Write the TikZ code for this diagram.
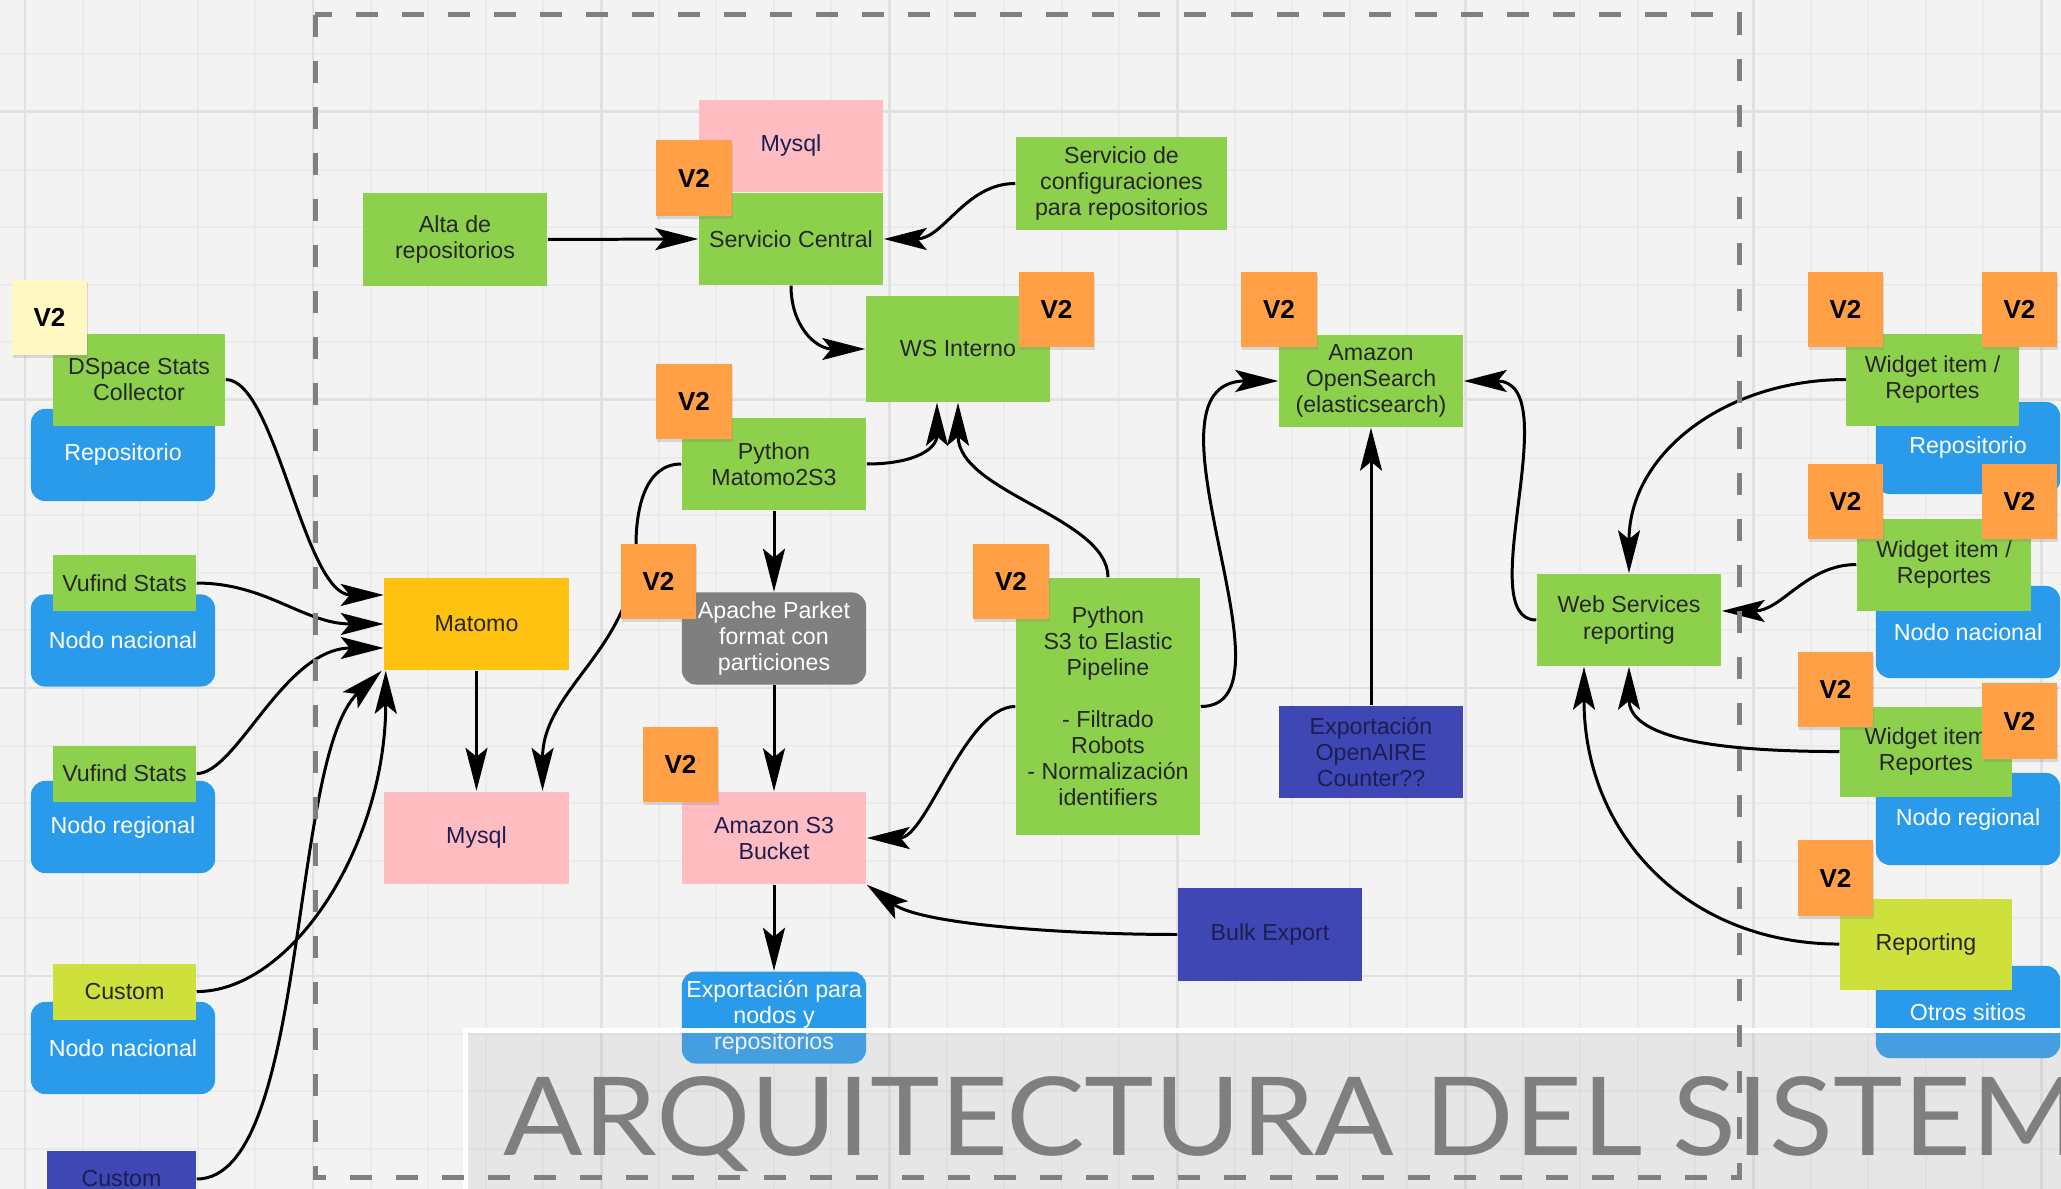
\documentclass[tikz,border=0pt]{standalone}
\usepackage{fontspec}
\setmainfont{Liberation Sans}
\newfontfamily\titlefont{Lato}
\usepackage{tikz}
\usetikzlibrary{positioning}
\usetikzlibrary{arrows.meta,shadows}

\definecolor{canvasgrey}{HTML}{F3F3F3}
\definecolor{gridgrey}{HTML}{EBEBEB}
\definecolor{gridmajor}{HTML}{E1E1E1}
\definecolor{boxgreen}{HTML}{8DD04C}
\definecolor{boxlime}{HTML}{CEE03C}
\definecolor{boxpink}{HTML}{FFBDC1}
\definecolor{boxblue}{HTML}{2A9AEB}
\definecolor{boxindigo}{HTML}{3E47B3}
\definecolor{boxnavy}{HTML}{1C1E52}
\definecolor{boxslate}{HTML}{7F7F7F}
\definecolor{boxamber}{HTML}{FFC210}
\definecolor{stickerorange}{HTML}{FFA046}
\definecolor{stickeryellow}{HTML}{FFF8C2}
\definecolor{titlegrey}{HTML}{7F7F7F}

\newcommand{\boxfont}{\fontsize{6.6}{7.4}\selectfont}
\newcommand{\stickerfont}{\fontsize{7.4}{8}\selectfont\bfseries}

\tikzstyle{flow edge}=[-{Stealth[length=0.43cm,width=0.22cm,inset=0.09cm]},line width=0.85pt]
\tikzstyle{minor line}=[gridgrey,line width=0.55pt]
\tikzstyle{major line}=[gridmajor,line width=0.85pt]
\tikzstyle{arch box}=[minimum width=1.84cm,minimum height=0.92cm,inner sep=1pt,align=center,font=\boxfont]
\tikzstyle{green box}=[arch box,fill=boxgreen,text=black!85]
\tikzstyle{lime box}=[arch box,fill=boxlime,text=black!85]
\tikzstyle{pink box}=[arch box,fill=boxpink,text=boxnavy]
\tikzstyle{site box}=[arch box,fill=boxblue,text=white,rounded corners=0.14cm]
\tikzstyle{export box}=[arch box,fill=boxindigo,text=boxnavy]
\tikzstyle{sticker}=[fill=stickerorange,minimum size=0.75cm,inner sep=0pt,font=\stickerfont,
  drop shadow={shadow xshift=0.01cm,shadow yshift=-0.03cm,opacity=0.25}]

\newcommand{\archnode}[3][]{
  \node [#1] (#2) {#3}
}
\newcommand{\vtwo}[2][]{
  \node [sticker,#1] (#2) {V2}
}

\begin{document}
\begin{tikzpicture}[x=0.01cm,y=0.01cm]
        \useasboundingbox (0,-1189) rectangle (2061,0);
        \fill[canvasgrey] (0,-1189) rectangle (2061,0);
        \foreach \gx in {0,...,35}
            \draw[minor line] ({25+57.6*\gx},0) -- ({25+57.6*\gx},-1189);
        \foreach \gy in {0,...,20}
            \draw[minor line] (0,{-54.4-57.6*\gy}) -- (2061,{-54.4-57.6*\gy});
        \foreach \gx in {0,...,7}
            \draw[major line] ({25+288*\gx},0) -- ({25+288*\gx},-1189);
        \foreach \gy in {0,...,3}
            \draw[major line] (0,{-112-288*\gy}) -- (2061,{-112-288*\gy});

        % sources on the left
        \archnode[site box, at={(123,-455)}]{repoleft}{Repositorio};
        \archnode[green box, above=-0.18cm of repoleft, xshift=0.16cm, minimum width=1.72cm]{dspace}{DSpace Stats\\Collector};
        \archnode[site box, at={(123,-640.5)}]{nodoa}{Nodo nacional};
        \archnode[green box, above=-0.18cm of nodoa, xshift=0.015cm, minimum width=1.43cm, minimum height=0.56cm]{vufa}{Vufind Stats};
        \archnode[site box, at={(123,-827)}]{nodob}{Nodo regional};
        \archnode[green box, above=-0.22cm of nodob, xshift=0.015cm, minimum width=1.43cm, minimum height=0.56cm]{vufb}{Vufind Stats};
        \archnode[site box, at={(123,-1048)}]{nodoc}{Nodo nacional};
        \archnode[lime box, above=-0.19cm of nodoc, xshift=0.015cm, minimum width=1.43cm, minimum height=0.56cm]{customa}{Custom};
        \archnode[export box, at={(121.5,-1179)}, minimum width=1.49cm, minimum height=0.56cm]{customb}{Custom};

        % central services
        \archnode[green box, at={(455,-239.5)}]{alta}{Alta de\\repositorios};
        \archnode[green box, at={(791,-239)}]{central}{Servicio Central};
        \archnode[pink box, above=0cm of central]{mysqltop}{Mysql};
        \archnode[green box, at={(1121.5,-183.5)}, minimum width=2.11cm, minimum height=0.93cm]{config}{Servicio de\\configuraciones\\para repositorios};
        \archnode[green box, at={(958,-349)}, minimum height=1.06cm]{wsint}{WS Interno};
        \archnode[green box, at={(774,-464)}]{matos}{Python\\Matomo2S3};
        \archnode[arch box, fill=boxslate, text=white, rounded corners=0.14cm, below=0.81cm of matos]{parket}{Apache Parket\\format con\\particiones};
        \archnode[pink box, below=1.06cm of parket]{bucket}{Amazon S3\\Bucket};
        \archnode[site box, below=0.86cm of bucket]{nodeexp}{Exportaci\'on para\\nodos y\\repositorios};
        \archnode[arch box, fill=boxamber, text=black!85, at={(476.5,-624)}]{matomo}{Matomo};
        \archnode[pink box, below=1.2cm of matomo]{mysqlmat}{Mysql};
        \archnode[green box, at={(1108,-706.5)}, minimum height=2.57cm]{pipe}{Python\\S3 to Elastic\\Pipeline\\[7.4pt]- Filtrado\\Robots\\- Normalizaci\'on\\identifiers};
        \archnode[export box, at={(1270,-934.5)}]{bulk}{Bulk Export};
        \archnode[green box, at={(1371,-381)}]{search}{Amazon\\OpenSearch\\(elasticsearch)};
        \archnode[export box, at={(1371,-752)}]{openaire}{Exportaci\'on\\OpenAIRE\\Counter??};
        \archnode[green box, at={(1629,-620)}]{wsrep}{Web Services\\reporting};

        % consumers on the right
        \archnode[site box, at={(1968,-448)}]{reporight}{Repositorio};
        \archnode[green box, above=-0.25cm of reporight, xshift=-0.355cm, minimum width=1.72cm]{widgeta}{Widget item /\\Reportes};
        \archnode[site box, at={(1968,-632)}]{nodod}{Nodo nacional};
        \archnode[green box, above=-0.26cm of nodod, xshift=-0.24cm, minimum width=1.74cm]{widgetb}{Widget item /\\Reportes};
        \archnode[site box, at={(1968,-819)}]{nodoe}{Nodo regional};
        \archnode[green box, above=-0.25cm of nodoe, xshift=-0.42cm, minimum width=1.72cm, minimum height=0.9cm]{widgetc}{Widget item\\Reportes};
        \archnode[site box, at={(1968,-1012)}]{otros}{Otros sitios};
        \archnode[lime box, above=-0.25cm of otros, xshift=-0.42cm, minimum width=1.72cm, minimum height=0.91cm]{reporting}{Reporting};

        \coordinate (bend) at (636,-545);

        \draw[flow edge] (alta.east) -- (central.west);
        \draw[flow edge] (config.west) .. controls +(-50,0) and +(60,0) .. (central.east);
        \draw[flow edge] (central.south) .. controls +(0,-40) and +(-50,0) .. (wsint.west);
        \draw[flow edge] (matos.east) .. controls +(50,0) and +(0,-45) .. ([xshift=-0.21cm]wsint.south);
        \draw[flow edge] (pipe.north) .. controls +(0,60) and +(0,-90) .. (wsint.south);

        \draw[flow edge] (matos) -- (parket);
        \draw[flow edge] (parket) -- (bucket);
        \draw[flow edge] (bucket) -- (nodeexp);
        \draw[flow edge] (pipe.west) .. controls +(-50,0) and +(60,0) .. (bucket.east);
        \draw[flow edge] (bulk.west) .. controls +(-110,0) and +(55,-40) .. (bucket.south east);

        \draw[flow edge] (pipe.east) .. controls +(105,0) and +(-150,0) .. (search.west);
        \draw[flow edge] (openaire) -- (search);
        \draw[flow edge] (wsrep.west) .. controls +(-66,0) and +(105,0) .. (search.east);

        \draw[flow edge] (widgeta.west) .. controls +(-120,0) and +(0,120) .. (wsrep.north);
        \draw[flow edge] (widgetb.west) .. controls +(-50,0) and +(60,0) .. ([yshift=0.09cm]wsrep.east);
        \draw[flow edge] (widgetc.west) .. controls +(-130,0) and +(0,-70) .. (wsrep.south);
        \draw[flow edge] (reporting.west) .. controls +(-150,0) and +(0,-170) .. ([xshift=-0.45cm]wsrep.south);

        \draw[flow edge] (dspace.east) .. controls +(50,0) and +(-80,0) .. ([yshift=0.29cm]matomo.west);
        \draw[flow edge] (vufa.east) .. controls +(70,0) and +(-80,0) .. (matomo.west);
        \draw[flow edge] (vufb.east) .. controls +(40,0) and +(-100,0) .. ([yshift=-0.24cm]matomo.west);
        \draw[flow edge] (customa.east) .. controls +(95,0) and +(0,-175) .. ([xshift=0.02cm]matomo.south west);
        \draw[flow edge] (customb.east) .. controls +(112,0) and +(-93,-87) .. ([xshift=-0.02cm]matomo.south west);
        \draw[flow edge] (matomo) -- (mysqlmat);
        \draw[flow edge] (matos.west) to[out=180,in=90] (bend) to[out=-90,in=90] ([xshift=0.66cm]mysqlmat.north);

        % V2 stickers
        \vtwo[fill=stickeryellow, at={(49.5,-317.5)}]{vdspace};
        \vtwo[at={(694,-178)}]{vcentral};
        \vtwo[at={(1056.5,-309.5)}]{vwsint};
        \vtwo[at={(694,-401.5)}]{vmatos};
        \vtwo[at={(658.5,-581.5)}]{vparket};
        \vtwo[at={(680.5,-764.5)}]{vbucket};
        \vtwo[at={(1011,-581.5)}]{vpipe};
        \vtwo[at={(1279,-309.5)}]{vsearch};
        \vtwo[at={(1845.5,-309.5)}]{vwidgeta};
        \vtwo[at={(2019.5,-309.5)}]{vwidgetb};
        \vtwo[at={(1845.5,-501.5)}]{vwidgetc};
        \vtwo[at={(2019.5,-501.5)}]{vwidgetd};
        \vtwo[at={(1835.5,-689.5)}]{vwidgete};
        \vtwo[at={(2019.5,-721)}]{vwidgetf};
        \vtwo[at={(1835.5,-878)}]{vreporting};

        % title band
        \fill[black!30, fill opacity=0.2] (465,-1030) rectangle (2061,-1189);
        \draw[white, line width=0.05cm] (465,-1189) -- (465,-1030) -- (2061,-1030);
        \node[anchor=base west, inner sep=0pt, text=titlegrey, font=\titlefont\fontsize{31}{31}\selectfont] (title) at (503,-1155) {\scalebox{1.08}[1]{ARQUITECTURA DEL SISTEM}};

        \draw[gray, line width=0.05cm, dash pattern=on 0.22cm off 0.24cm] (315,-15) rectangle (1739,-1177);
\end{tikzpicture}
\end{document}
